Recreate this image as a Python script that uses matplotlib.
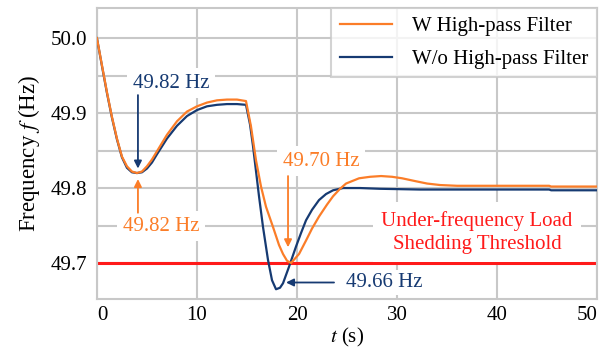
import numpy as np
import matplotlib
matplotlib.use("Agg")
import matplotlib.pyplot as plt

plt.rcParams['font.family'] = ['Liberation Serif', 'DejaVu Serif']
plt.rcParams['mathtext.fontset'] = 'stix'

# frequency response, with the high-pass filter
t_hpf = [0, 0.5, 1.0, 1.5, 2.0, 2.5, 3.0, 3.5, 4.0, 4.5, 5.0, 5.5, 6, 7, 8, 9, 10,
         11, 12, 13, 14, 14.9, 15.4, 15.9, 16.4, 16.9, 17.6, 18.2, 18.6, 19.0,
         19.4, 20.2, 20.9, 21.5, 22.2, 23.0, 23.6, 24.3, 24.9, 26.2, 27.3, 28.4,
         29.5, 30.5, 31.9, 33.0, 34.3, 36, 38, 40, 42, 45.2, 45.4, 50]
f_hpf = [50.0, 49.964, 49.928, 49.895, 49.866, 49.842, 49.829, 49.822, 49.820,
         49.822, 49.829, 49.838, 49.849, 49.871, 49.889, 49.902, 49.909, 49.914,
         49.917, 49.918, 49.918, 49.916, 49.882, 49.837, 49.802, 49.775, 49.748,
         49.724, 49.712, 49.703, 49.700, 49.712, 49.730, 49.746, 49.762, 49.778,
         49.789, 49.799, 49.806, 49.813, 49.815, 49.816, 49.815, 49.813, 49.809,
         49.806, 49.804, 49.803, 49.803, 49.803, 49.803, 49.803, 49.802, 49.802]

# frequency response, without the high-pass filter
t_raw = [0, 0.5, 1.0, 1.5, 2.0, 2.5, 3.0, 3.5, 4.0, 4.5, 5.0, 5.5, 6, 7, 8, 9, 10,
         11, 12, 13, 14, 14.9, 15.3, 15.6, 16.2, 16.6, 17.1, 17.5, 17.9, 18.3,
         18.6, 19.2, 19.9, 20.4, 20.9, 21.5, 22.2, 22.9, 23.6, 24.6, 26.3, 28.3,
         32.3, 40, 45.2, 45.4, 50]
f_raw = [50.0, 49.963, 49.927, 49.894, 49.865, 49.841, 49.827, 49.821, 49.820,
         49.821, 49.826, 49.834, 49.845, 49.866, 49.883, 49.896, 49.904, 49.909,
         49.911, 49.912, 49.912, 49.911, 49.885, 49.856, 49.789, 49.748, 49.704,
         49.677, 49.665, 49.667, 49.673, 49.695, 49.722, 49.740, 49.757, 49.771,
         49.784, 49.792, 49.797, 49.800, 49.800, 49.799, 49.798, 49.798, 49.798,
         49.797, 49.797]

threshold = 49.7
nadir_labels = ["49.82 Hz", "49.82 Hz", "49.70 Hz", "49.66 Hz"]

c_hpf = '#fb7d28'
c_raw = '#163a72'
c_red = '#ff1a1a'
fs = 15

fig = plt.figure(figsize=(6.02, 3.53), dpi=100)
ax = fig.add_axes([0.161, 0.153, 0.831, 0.824])

ax.plot(t_hpf, f_hpf, color=c_hpf, lw=1.6, zorder=4, label='W High-pass Filter')
ax.plot(t_raw, f_raw, color=c_raw, lw=1.6, zorder=3, label='W/o High-pass Filter')
ax.axhline(threshold, color=c_red, lw=2.2, zorder=2)

ax.set_xlim(0, 50)
ax.set_ylim(49.652, 50.04)
ax.set_xticks(np.arange(0, 51, 10))
ax.set_yticks([49.7, 49.8, 49.9, 50.0])
ax.set_yticks([49.75, 49.85, 49.95], minor=True)
ax.yaxis.set_major_formatter(matplotlib.ticker.FormatStrFormatter('%.1f'))
ax.tick_params(which='both', length=0, labelsize=fs)
ax.tick_params(axis='y', pad=7)
ax.tick_params(axis='x', pad=5)
xlabels = ax.get_xticklabels()
xlabels[0].set_horizontalalignment('left')
xlabels[-1].set_horizontalalignment('right')
ax.grid(True, which='both', color='#c8c8c8', lw=1.5, zorder=0)
ax.set_axisbelow(True)
for s in ax.spines.values():
    s.set_color('#c8c8c8')
    s.set_linewidth(1.5)

ax.set_xlabel('$t$ (s)', fontsize=fs, labelpad=1)
ax.set_ylabel('Frequency $f$ (Hz)', fontsize=16.5, labelpad=6)

box = dict(facecolor='white', edgecolor='none', pad=4)
arr = dict(arrowstyle='-|>', lw=1.3, mutation_scale=11, shrinkA=0, shrinkB=0)

# first nadir, both curves
ax.text(7.4, 49.94, nadir_labels[0], color=c_raw, fontsize=fs, ha='center',
        va='center', bbox=box, zorder=5)
ax.annotate('', xy=(4.1, 49.826), xytext=(4.1, 49.924),
            arrowprops=dict(arr, color=c_raw), zorder=5)
ax.text(6.4, 49.749, nadir_labels[1], color=c_hpf, fontsize=fs, ha='center',
        va='center', bbox=box, zorder=5)
ax.annotate('', xy=(4.1, 49.812), xytext=(4.1, 49.767),
            arrowprops=dict(arr, color=c_hpf), zorder=5)

# second nadir
ax.text(22.4, 49.836, nadir_labels[2], color=c_hpf, fontsize=fs, ha='center',
        va='center', bbox=box, zorder=5)
ax.annotate('', xy=(19.1, 49.721), xytext=(19.1, 49.816),
            arrowprops=dict(arr, color=c_hpf), zorder=5)
ax.text(24.9, 49.674, nadir_labels[3], color=c_raw, fontsize=fs, ha='left',
        va='center', bbox=dict(box, pad=2), zorder=5)
ax.annotate('', xy=(18.9, 49.674), xytext=(23.7, 49.674),
            arrowprops=dict(arr, color=c_raw), zorder=5)

ax.text(38.0, 49.741, 'Under-frequency Load\nShedding Threshold', color=c_red,
        fontsize=fs, ha='center', va='center', linespacing=1.3,
        bbox=dict(box, pad=6), zorder=5)

leg = ax.legend(loc='upper right', fontsize=fs, frameon=True, fancybox=False,
                borderaxespad=0, handlelength=2.5, handletextpad=1.0,
                borderpad=0.4, labelspacing=0.65)
leg.get_frame().set_edgecolor('#c8c8c8')
leg.get_frame().set_linewidth(1.5)
leg.set_zorder(6)

fig.savefig('out.png', dpi=100)
